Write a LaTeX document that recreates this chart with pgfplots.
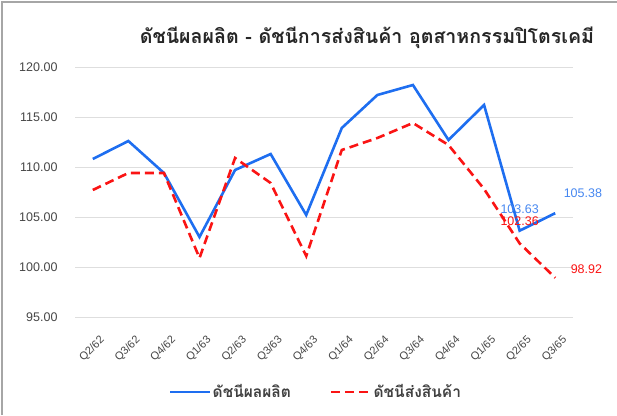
\documentclass[border=0pt]{standalone}
\usepackage{pgfplots}
\pgfplotsset{compat=1.18}
\usepackage{fontspec}
\setmainfont{Liberation Sans}
\newfontfamily\thaifont[Script=Thai]{Loma}
\definecolor{bl}{RGB}{30,110,240}
\definecolor{bllab}{RGB}{70,135,240}
\definecolor{rd}{RGB}{250,20,20}
\definecolor{gridc}{RGB}{222,222,222}
\definecolor{tickc}{RGB}{70,70,70}
\begin{document}
\begin{tikzpicture}
\path[use as bounding box] (0pt,0pt) rectangle (617pt,415pt);
\draw[gray!70, line width=1.5pt] (2pt,0pt) -- (2pt,413pt) -- (617pt,413pt);
\node[font=\thaifont\bfseries\fontsize{19.6}{22}\selectfont, text=black!85] at (367pt,377pt) {ดัชนีผลผลิต - ดัชนีการส่งสินค้า อุตสาหกรรมปิโตรเคมี};
\begin{axis}[
  at={(75pt,98pt)}, anchor=south west,
  scale only axis, width=498pt, height=250pt,
  xmin=-0.5, xmax=13.5, ymin=95, ymax=120,
  axis line style={draw=none},
  major tick length=0pt,
  ytick={95,100,105,110,115,120},
  ymajorgrids, grid style={gridc, line width=0.8pt},
  xtick={0,...,13},
  xticklabels={Q2/62,Q3/62,Q4/62,Q1/63,Q2/63,Q3/63,Q4/63,Q1/64,Q2/64,Q3/64,Q4/64,Q1/65,Q2/65,Q3/65},
  xticklabel style={rotate=45, anchor=north east, font=\fontsize{11}{12}\selectfont, text=tickc, inner sep=1pt, yshift=-16pt, xshift=-7pt},
  yticklabel style={font=\fontsize{12.5}{14}\selectfont, text=tickc, xshift=-14pt},
  /pgf/number format/assume math mode=true,
  yticklabel={\pgfmathprintnumber[fixed,fixed zerofill,precision=2]{\tick}},
  legend columns=2,
  legend style={at={(0.483,-0.30)}, anchor=center, draw=none, fill=none,
    font=\thaifont\bfseries\fontsize{15.5}{17}\selectfont, text=black!75,
    /tikz/every even column/.append style={column sep=38pt},
    nodes={inner sep=1pt}},
  legend image code/.code={\draw[#1] (0pt,0pt) -- (40pt,0pt);},
  clip=false,
]
\addplot[bl, line width=2.6pt, line join=miter] coordinates {
(0,110.8) (1,112.6) (2,109.4) (3,103.0) (4,109.7) (5,111.3) (6,105.2)
(7,113.9) (8,117.2) (9,118.2) (10,112.7) (11,116.2) (12,103.63) (13,105.38)};
\addlegendentry{ดัชนีผลผลิต}
\addplot[rd, line width=2.6pt, dash pattern=on 9pt off 5pt] coordinates {
(0,107.7) (1,109.4) (2,109.4) (3,100.9) (4,110.9) (5,108.4) (6,101.1)
(7,111.7) (8,112.9) (9,114.4) (10,112.2) (11,107.8) (12,102.36) (13,98.92)};
\addlegendentry{ดัชนีส่งสินค้า}
\node[font=\fontsize{12.5}{14}\selectfont, text=bllab, anchor=west] at (axis cs:13,105.38) [xshift=5pt, yshift=20pt] {105.38};
\node[font=\fontsize{12.5}{14}\selectfont, text=rd, anchor=west] at (axis cs:13,98.92) [xshift=12pt, yshift=9pt] {98.92};
\node[font=\fontsize{12.5}{14}\selectfont, text=bllab] at (axis cs:12,103.63) [yshift=22pt] {103.63};
\node[font=\fontsize{12.5}{14}\selectfont, text=rd] at (axis cs:12,102.36) [yshift=22pt] {102.36};
\end{axis}
\end{tikzpicture}
\end{document}
